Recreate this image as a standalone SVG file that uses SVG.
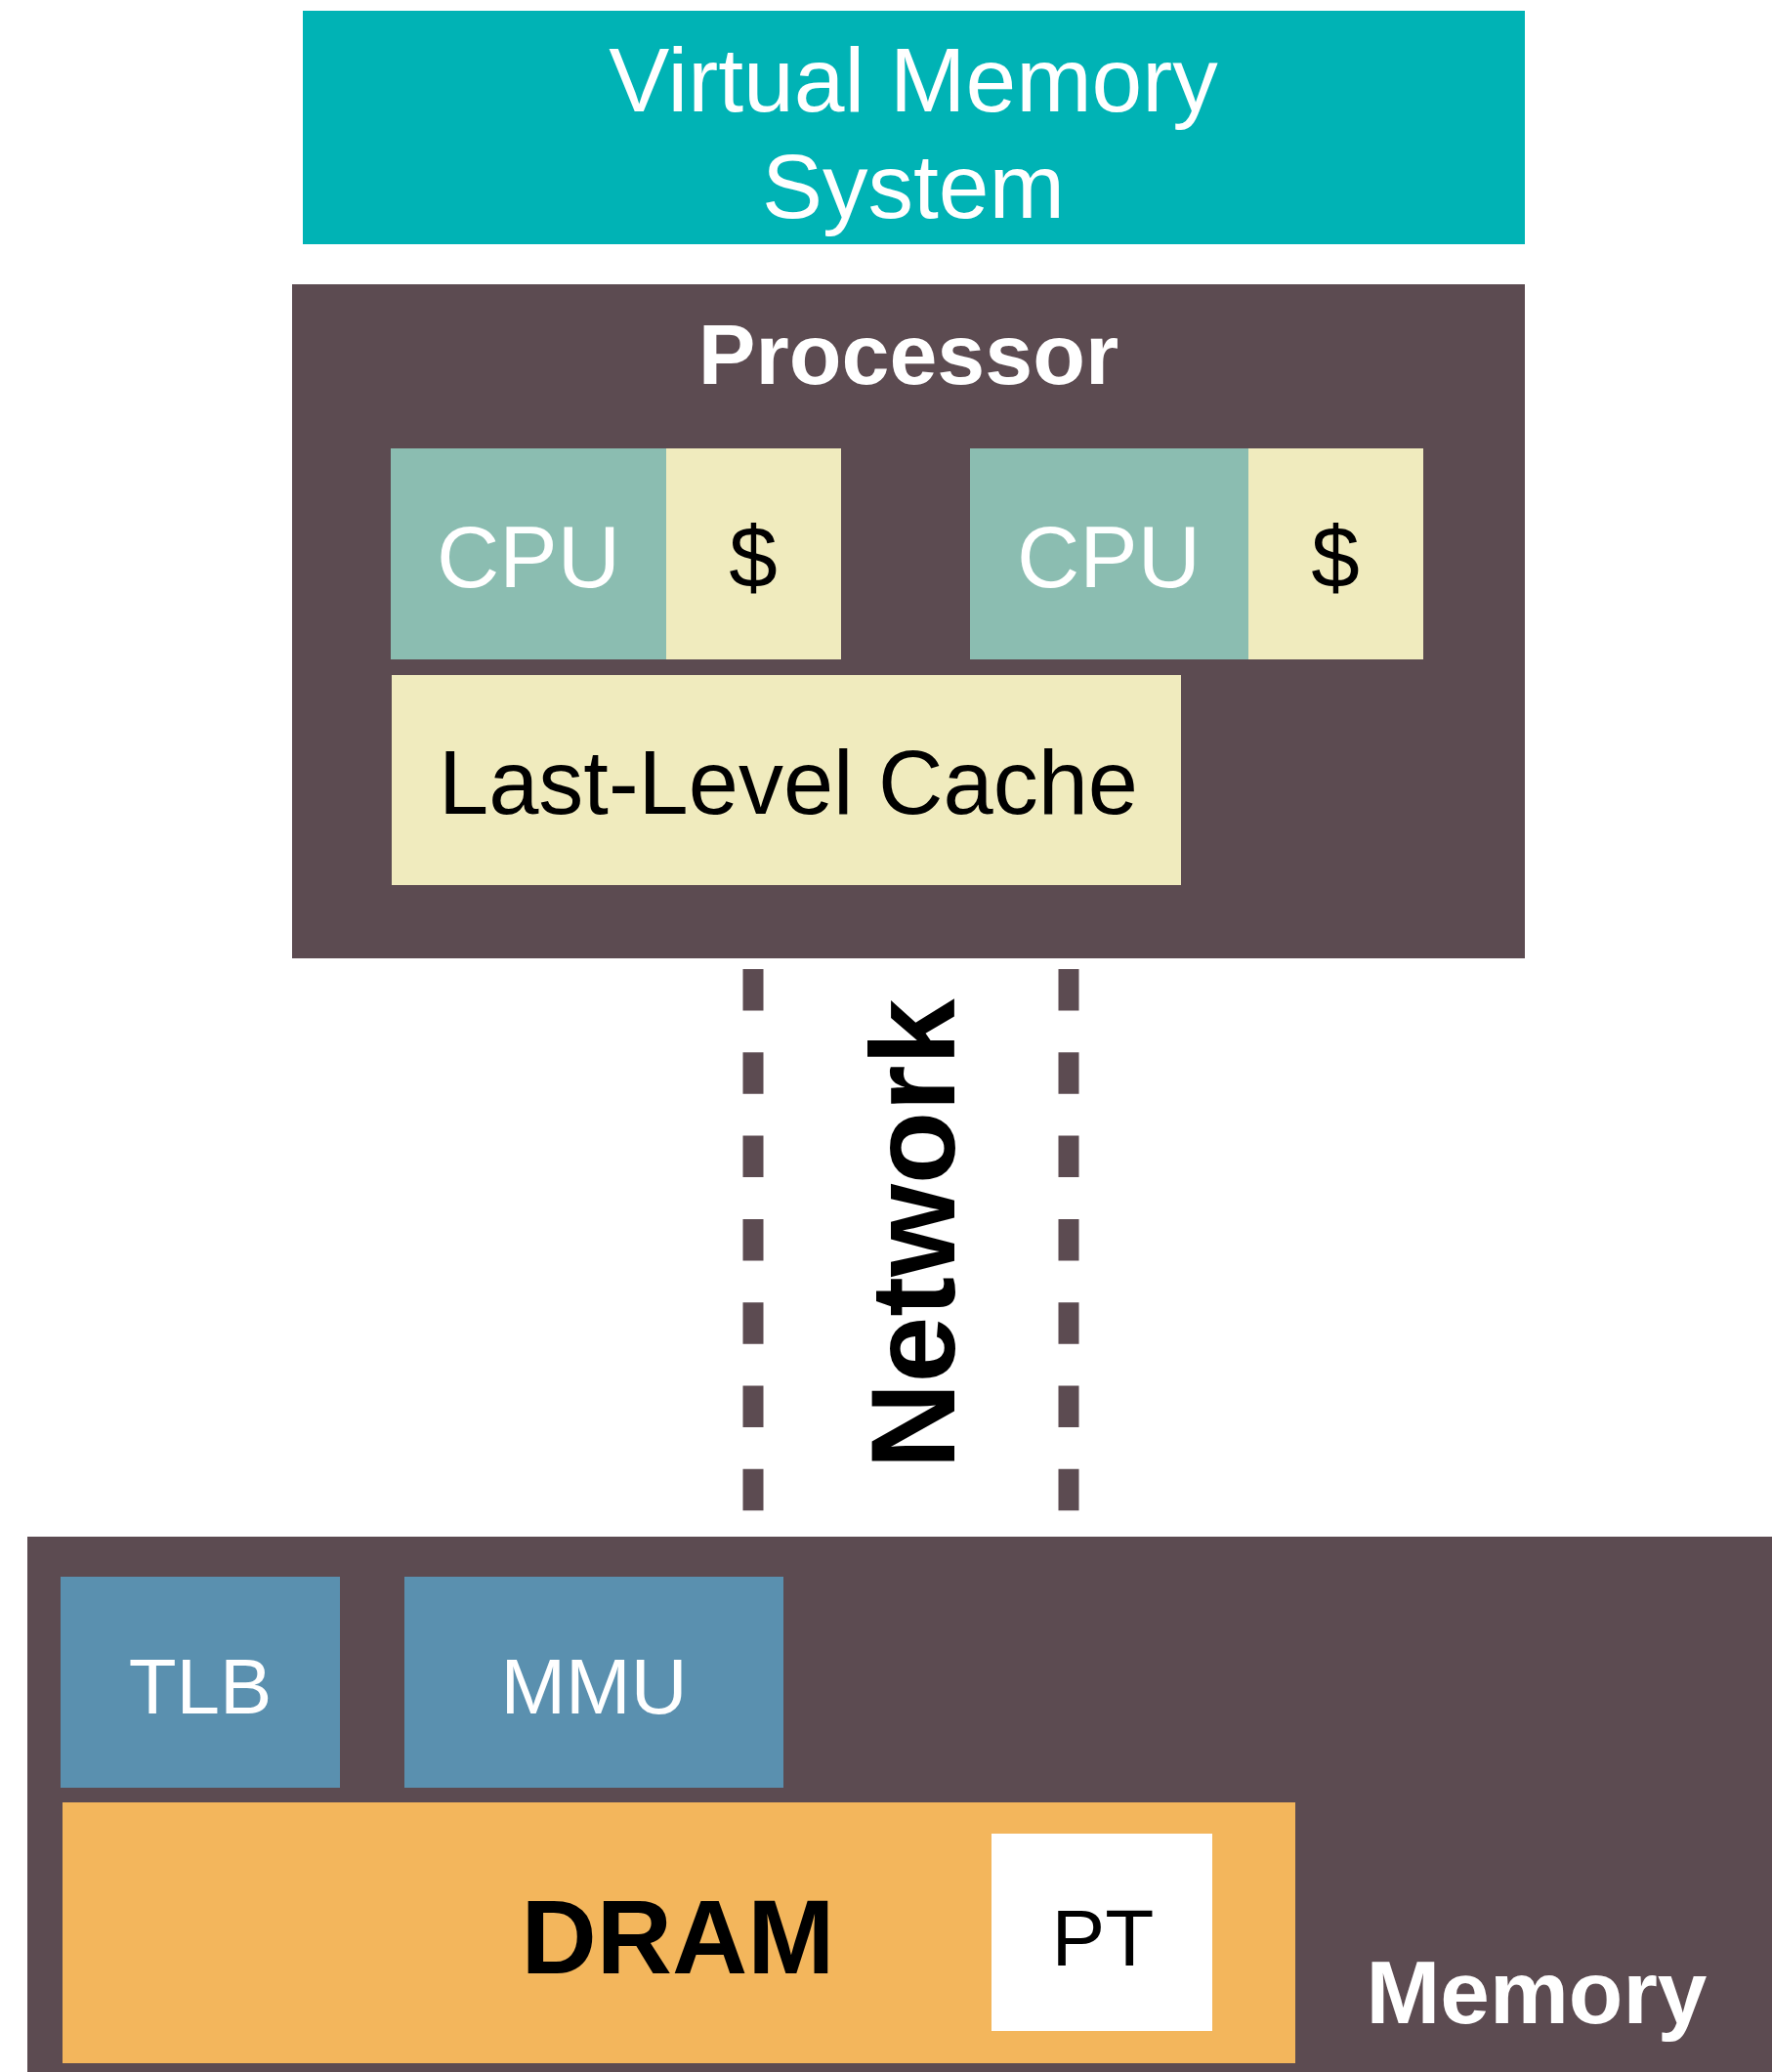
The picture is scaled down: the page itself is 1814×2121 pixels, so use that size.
<svg xmlns="http://www.w3.org/2000/svg" width="1814" height="2121" viewBox="0 0 1814 2121">
<style>
text{font-family:"Liberation Sans",Arial,Helvetica,sans-serif;text-anchor:middle}
.w{fill:#ffffff}
.k{fill:#000000}
.b{font-weight:bold}
.dark{fill:#5C4B51}
.cpu{fill:#8BBDB1}
.cache{fill:#F0EBBE}
.blue{fill:#5A90AF}
.dram{fill:#F3B65C}
.dash{stroke:#5C4B51;stroke-width:21;stroke-dasharray:42.5 42.8;fill:none}
</style>
<rect width="1814" height="2121" fill="#ffffff"/>
<g id="vms">
<rect x="310" y="11" width="1251" height="239" fill="#00B3B5"/>
<text class="w" x="935" y="114" font-size="93">Virtual Memory</text>
<text class="w" x="935" y="223" font-size="93">System</text>
</g>
<g id="processor">
<rect class="dark" x="299" y="291" width="1262" height="690"/>
<text class="w b" x="930" y="393" font-size="88">Processor</text>
</g>
<g id="cpu1">
<rect class="cpu" x="400" y="459" width="282" height="216"/>
<text class="w" x="541" y="601" font-size="89">CPU</text>
</g>
<g id="cache1">
<rect class="cache" x="682" y="459" width="179" height="216"/>
<text class="k" x="771" y="601" font-size="89">$</text>
</g>
<g id="cpu2">
<rect class="cpu" x="993" y="459" width="285" height="216"/>
<text class="w" x="1135" y="601" font-size="89">CPU</text>
</g>
<g id="cache2">
<rect class="cache" x="1278" y="459" width="179" height="216"/>
<text class="k" x="1367" y="601" font-size="89">$</text>
</g>
<g id="llc">
<rect class="cache" x="401" y="691" width="808" height="215"/>
<text class="k" x="807" y="833" font-size="92">Last-Level Cache</text>
</g>
<g id="connectors">
<line class="dash" x1="771" y1="992" x2="771" y2="1547"/>
<line class="dash" x1="1094" y1="992" x2="1094" y2="1547"/>
</g>
<g id="network">
<text class="k b" transform="translate(977,1263) rotate(-90)" x="0" y="0" font-size="122">Network</text>
</g>
<g id="memory">
<rect class="dark" x="28" y="1573" width="1786" height="548"/>
<text class="w b" x="1573" y="2071" font-size="91">Memory</text>
</g>
<g id="tlb">
<rect class="blue" x="62" y="1614" width="286" height="216"/>
<text class="w" x="205" y="1754" font-size="80">TLB</text>
</g>
<g id="mmu">
<rect class="blue" x="414" y="1614" width="388" height="216"/>
<text class="w" x="608" y="1754" font-size="80">MMU</text>
</g>
<g id="dram">
<rect class="dram" x="64" y="1845" width="1262" height="267"/>
<text class="k b" x="694" y="2020" font-size="107">DRAM</text>
</g>
<g id="pt">
<rect x="1015" y="1877" width="226" height="202" fill="#ffffff"/>
<text class="k" x="1129" y="2012" font-size="82">PT</text>
</g>
</svg>
